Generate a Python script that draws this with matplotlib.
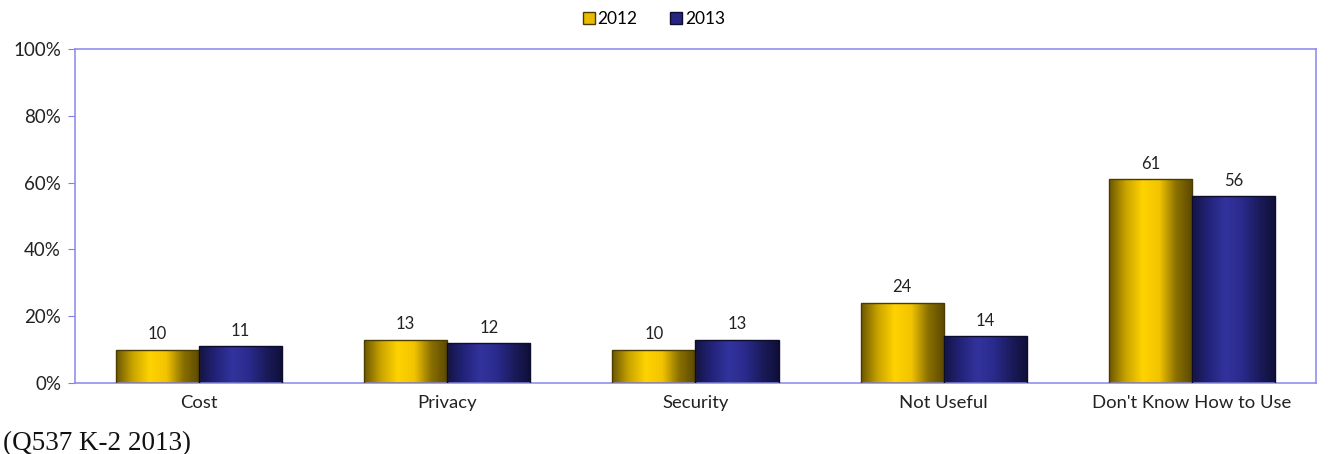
import numpy as np
import matplotlib
matplotlib.use("Agg")
import matplotlib.pyplot as plt
from matplotlib.colors import LinearSegmentedColormap
from matplotlib.patches import Patch

categories = ["Cost", "Privacy", "Security", "Not Useful", "Don't Know How to Use"]
vals_2012 = [10, 13, 10, 24, 61]
vals_2013 = [11, 12, 13, 14, 56]
years = ["2012", "2013"]

plt.rcParams["font.family"] = ["Lato", "DejaVu Sans"]

fig = plt.figure(figsize=(13.29, 4.54), dpi=100)
ax = fig.add_axes([0.0564, 0.1564, 0.9338, 0.7357])

x = np.arange(len(categories))
w = 0.335

# cylinder-like shading: dark at the edges, bright in the middle
gold = LinearSegmentedColormap.from_list("gold", ["#6b5700", "#c9a400", "#ffd200", "#f2c400", "#8a7000", "#5a4800"])
navy = LinearSegmentedColormap.from_list("navy", ["#141444", "#23237a", "#33339e", "#2a2a8c", "#1b1b5c", "#0f0f38"])
grad = np.linspace(0, 1, 256).reshape(1, -1)

def shaded_bars(xs, vals, cmap, edge):
    bars = ax.bar(xs, vals, w, color="none", edgecolor=edge, linewidth=1.0, zorder=3)
    for b in bars:
        im = ax.imshow(grad, cmap=cmap, aspect="auto", zorder=2,
                       extent=[b.get_x(), b.get_x() + b.get_width(), 0, b.get_height()])
        im.set_clip_path(b)
    return bars

b1 = shaded_bars(x - w / 2, vals_2012, gold, "#4a3c00")
b2 = shaded_bars(x + w / 2, vals_2013, navy, "#0c0c2c")

for bars, vals in ((b1, vals_2012), (b2, vals_2013)):
    for b, v in zip(bars, vals):
        ax.text(b.get_x() + b.get_width() / 2, v + 2.2, str(v), ha="center", va="bottom",
                fontsize=12, color="#222222")

ax.set_xlim(-0.5, len(categories) - 0.5)
ax.set_ylim(0, 100)
ax.set_yticks(range(0, 101, 20))
ax.set_yticklabels([f"{t}%" for t in range(0, 101, 20)], fontsize=13.5, color="#222222")
ax.set_xticks(x)
ax.set_xticklabels(categories, fontsize=13.3, color="#222222")
ax.tick_params(axis="x", length=0, pad=9)
ax.tick_params(axis="y", length=5, color="#8080e0", pad=5)
for s in ax.spines.values():
    s.set_color("#9090ee")
    s.set_linewidth(1.2)

handles = [Patch(facecolor="#e8bb00", edgecolor="#4a3c00"),
           Patch(facecolor="#262680", edgecolor="#0c0c2c")]
fig.legend(handles, years, loc="center", bbox_to_anchor=(0.492, 0.958), ncol=2, frameon=False,
           fontsize=12.5, handlelength=0.7, handleheight=0.7, columnspacing=1.9, handletextpad=0.15)

fig.text(0.002, 0.008, "(Q537 K-2 2013)", fontsize=19.5, family=["Liberation Serif"], color="#111111")

fig.savefig("out.png", dpi=100)
